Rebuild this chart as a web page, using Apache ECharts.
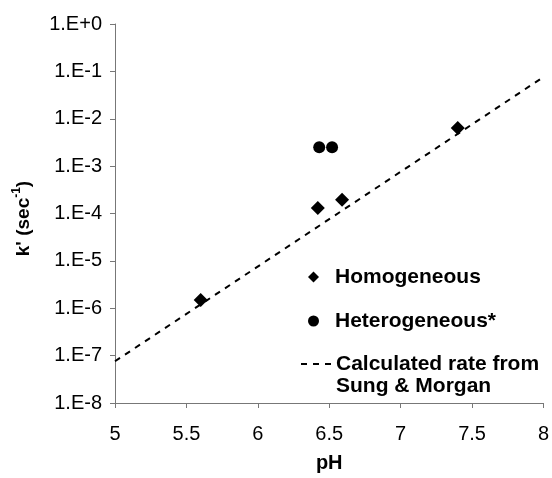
<!DOCTYPE html>
<html>
<head>
<meta charset="utf-8">
<script src="https://cdn.jsdelivr.net/npm/echarts@6/dist/echarts.min.js"></script>
<style>
html,body{margin:0;padding:0;background:#fff;}
#chart{width:552px;height:478px;}
</style>
</head>
<body>
<div id="chart"></div>
<script>
// ---- data ----
const homoPH = [5.6, 6.42, 6.59, 7.4];
const homoK = [1.5e-6, 1.3e-4, 1.95e-4, 6.4e-3];
const heteroPH = [6.43, 6.52];
const heteroK = [2.5e-3, 2.5e-3];
const calcPH = [5, 8];
const calcK = [7.6e-8, 7.6e-2];
const xTickLabels = ['5', '5.5', '6', '6.5', '7', '7.5', '8'];
const yTickLabels = ['1.E-8', '1.E-7', '1.E-6', '1.E-5', '1.E-4', '1.E-3', '1.E-2', '1.E-1', '1.E+0'];
const seriesNames = ['Homogeneous', 'Heterogeneous*', 'Calculated rate from\nSung & Morgan'];

const FONT = "'Liberation Sans', Arial, sans-serif";
const chart = echarts.init(document.getElementById('chart'));

const zip = (xs, ys) => xs.map((x, i) => [x, ys[i]]);
const legendText = { fontSize: 21, fontWeight: 'bold', color: '#000', fontFamily: FONT, lineHeight: 22 };

chart.setOption({
  animation: false,
  backgroundColor: '#fff',
  textStyle: { fontFamily: FONT },
  grid: { left: 115, right: 8, top: 24, bottom: 72, containLabel: false },
  xAxis: {
    type: 'value', min: 5, max: 8, interval: 0.5,
    name: 'pH', nameLocation: 'middle', nameGap: 50,
    nameTextStyle: { fontSize: 20, fontWeight: 'bold', color: '#000', fontFamily: FONT },
    axisLine: { show: true, lineStyle: { color: '#777', width: 1 } },
    axisTick: { show: true, inside: false, length: 5, lineStyle: { color: '#777' } },
    axisLabel: { fontSize: 20, color: '#000', margin: 21, fontFamily: FONT,
      formatter: (v) => xTickLabels[Math.round((v - 5) / 0.5)] },
    splitLine: { show: false }
  },
  yAxis: {
    type: 'log', logBase: 10, min: 1e-8, max: 1,
    name: "{a|k' (sec}{s|-1}{a|)}", nameLocation: 'middle', nameGap: 82, nameRotate: 90,
    nameTextStyle: {
      color: '#000', fontFamily: FONT, padding: [0, 10, 0, 0],
      rich: {
        a: { fontSize: 19, fontWeight: 'bold', color: '#000', fontFamily: FONT, lineHeight: 22, verticalAlign: 'bottom' },
        s: { fontSize: 12, fontWeight: 'bold', color: '#000', fontFamily: FONT, lineHeight: 22, verticalAlign: 'top' }
      }
    },
    axisLine: { show: true, lineStyle: { color: '#777', width: 1 } },
    axisTick: { show: true, inside: false, length: 5, lineStyle: { color: '#777' } },
    axisLabel: { fontSize: 20, color: '#000', margin: 13, fontFamily: FONT,
      formatter: (v) => yTickLabels[Math.round(Math.log10(v)) + 8] },
    splitLine: { show: false }
  },
  legend: [
    {
      data: [seriesNames[0], seriesNames[1]],
      orient: 'vertical', left: 308, top: 266, padding: 0,
      itemWidth: 11, itemHeight: 11, itemGap: 22,
      formatter: (name) => '{g| }{t|' + name + '}',
      textStyle: Object.assign({}, legendText, {
        rich: {
          g: { width: 11, fontSize: 21, lineHeight: 22 },
          t: legendText
        }
      }),
      selectedMode: false
    },
    {
      data: [seriesNames[2]],
      orient: 'vertical', left: 300, top: 331, padding: 0,
      itemWidth: 30, itemHeight: 11,
      itemStyle: { opacity: 0 },
      formatter: (name) => '\n' + name,
      textStyle: legendText,
      selectedMode: false
    }
  ],
  series: [
    {
      name: seriesNames[2], type: 'line', data: zip(calcPH, calcK),
      symbol: 'none', z: 1,
      lineStyle: { color: '#000', width: 2, type: [6, 6] },
      itemStyle: { color: '#000' }
    },
    {
      name: seriesNames[0], type: 'scatter', data: zip(homoPH, homoK),
      symbol: 'diamond', symbolSize: 14, z: 3,
      itemStyle: { color: '#000', opacity: 1 }
    },
    {
      name: seriesNames[1], type: 'scatter', data: zip(heteroPH, heteroK),
      symbol: 'circle', symbolSize: 12, z: 3,
      itemStyle: { color: '#000', opacity: 1 }
    }
  ]
});
</script>
</body>
</html>
